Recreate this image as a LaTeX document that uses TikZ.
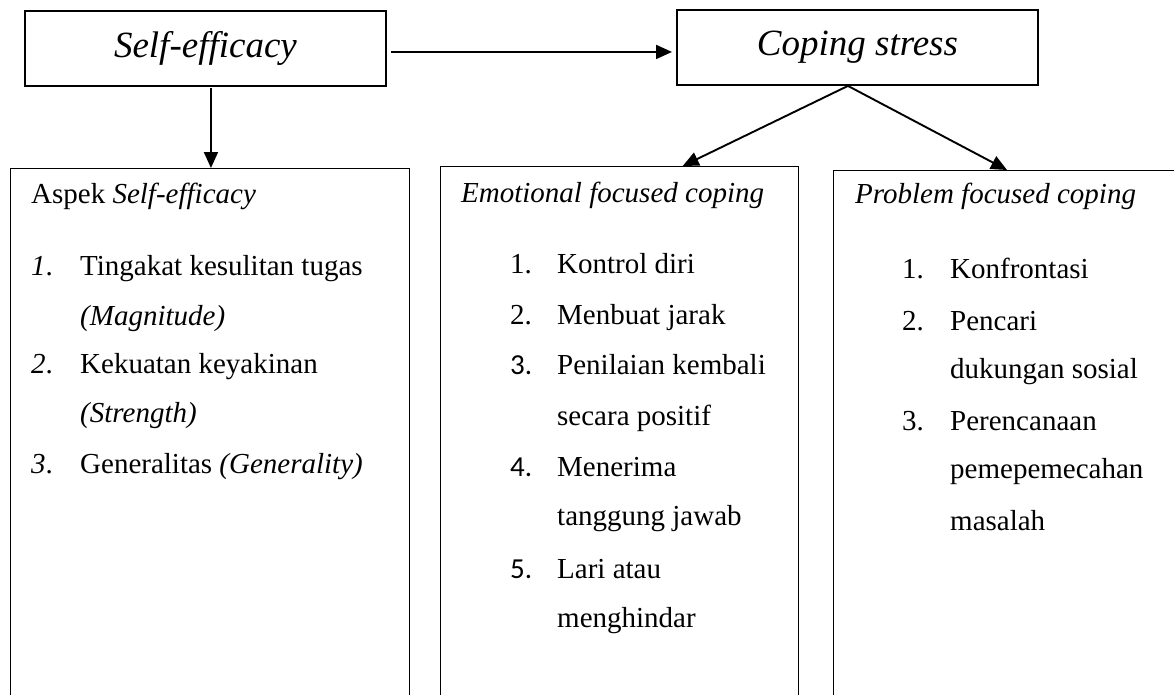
\documentclass[tikz,border=0pt]{standalone}
\usepackage{fontspec}
\setmainfont{Liberation Serif}
\newfontfamily\numsans{Carlito}
\usetikzlibrary{arrows.meta}
\newcommand\myBody{\fontsize{29}{35}\selectfont}
\newcommand\myHead{\fontsize{37}{44}\selectfont}
\tikzset{
  topbox/.style={draw, line width=1.9pt, rectangle, inner sep=0pt, minimum width=361pt, minimum height=75pt, anchor=north west, font=\myHead\itshape},
  lowbox/.style={draw, line width=1.4pt, rectangle, inner sep=0pt, minimum height=600pt, anchor=north west},
  txt/.style={anchor=base west, inner sep=0pt, font=\myBody},
  arr/.style={line width=1.9pt, -{Triangle[length=16pt,width=14pt]}}
}
\begin{document}
\begin{tikzpicture}[x=1pt,y=-1pt]
\useasboundingbox (0,0) rectangle (1174,694);
\clip (0,0) rectangle (1174,694);
% top boxes
\node[topbox] (se) at (24,10) {Self-efficacy};
\node[topbox] (cs) at (676,9) {Coping stress};
% lower boxes
\node[lowbox, minimum width=399pt] (asp) at (10,168) {};
\node[lowbox, minimum width=358pt] (emo) at (440,166) {};
\node[lowbox, minimum width=420pt] (pfc) at (833,170) {};
% left box text
\node[txt] (a0) at (31,203) {Aspek \textit{Self-efficacy}};
\node[txt] (a1n) at (31,275) {\textit{1}.};
\node[txt] (a1) at (80,275) {Tingakat kesulitan tugas};
\node[txt] (a1b) at (80,325) {\textit{(Magnitude)}};
\node[txt] (a2n) at (31,373) {\textit{2}.};
\node[txt] (a2) at (80,373) {Kekuatan keyakinan};
\node[txt] (a2b) at (80,422) {\textit{(Strength)}};
\node[txt] (a3n) at (31,473) {\textit{3}.};
\node[txt] (a3) at (80,473) {Generalitas \textit{(Generality)}};
% middle box text
\node[txt] (e0) at (461,202) {\textit{Emotional focused coping}};
\node[txt] (e1n) at (510,273) {1.};
\node[txt] (e1) at (557,273) {Kontrol diri};
\node[txt] (e2n) at (510,324) {2.};
\node[txt] (e2) at (557,324) {Menbuat jarak};
\node[txt] (e3n) at (510,374) {\numsans 3.};
\node[txt] (e3) at (557,374) {Penilaian kembali};
\node[txt] (e3b) at (557,425) {secara positif};
\node[txt] (e4n) at (510,476) {\numsans 4.};
\node[txt] (e4) at (557,476) {Menerima};
\node[txt] (e4b) at (557,525) {tanggung jawab};
\node[txt] (e5n) at (510,578) {\numsans 5.};
\node[txt] (e5) at (557,578) {Lari atau};
\node[txt] (e5b) at (557,627) {menghindar};
% right box text
\node[txt] (p0) at (855,203) {\textit{Problem focused coping}};
\node[txt] (p1n) at (902,278) {1.};
\node[txt] (p1) at (950,278) {Konfrontasi};
\node[txt] (p2n) at (902,330) {2.};
\node[txt] (p2) at (950,330) {Pencari};
\node[txt] (p2b) at (950,378) {dukungan sosial};
\node[txt] (p3n) at (902,430) {3.};
\node[txt] (p3) at (950,430) {Perencanaan};
\node[txt] (p3b) at (950,478) {pemepemecahan};
\node[txt] (p3c) at (950,530) {masalah};
% connectors
\coordinate (hs) at ([xshift=4pt,yshift=-3.5pt]se.east);
\draw[arr, shorten >=4pt] (hs) -- (hs -| cs.west);
\coordinate (vs) at ([xshift=5.5pt]se.south);
\draw[arr, shorten <=1pt] (vs) -- (vs |- asp.north);
\coordinate (dg) at ([xshift=-9.5pt]cs.south);
\draw[arr] (dg) -- ([xshift=63pt]emo.north);
\draw[arr] (dg) -- ([xshift=174pt]pfc.north west);
\end{tikzpicture}
\end{document}
